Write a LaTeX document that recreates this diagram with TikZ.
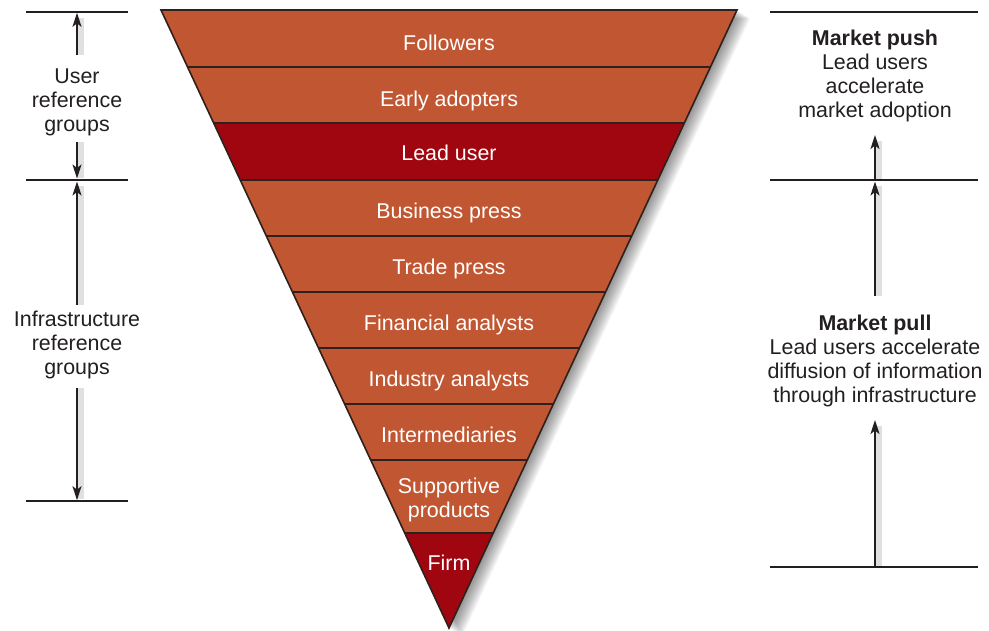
\documentclass[tikz,border=0pt]{standalone}
\usepackage{fontspec}
\setmainfont{Liberation Sans}
\usetikzlibrary{arrows.meta,calc}
\definecolor{band}{RGB}{192,87,50}
\definecolor{lead}{RGB}{160,6,16}
\definecolor{edge}{RGB}{48,32,28}
\definecolor{ink}{RGB}{35,31,32}
\begin{document}
\begin{tikzpicture}[x=1pt,y=-1pt,
  lbl/.style={font=\fontsize{21.4}{24}\selectfont, text=white, align=center, inner sep=0pt},
  side/.style={font=\fontsize{21.4}{24}\selectfont, text=ink, align=center, inner sep=0pt},
  rulel/.style={draw=ink, line width=1.5pt},
  arr/.style={draw=ink, line width=2pt, -{Stealth[length=14pt,width=9pt,inset=3.5pt]}},
  ashadow/.style={draw=black, opacity=0.12, line width=8pt}]
\useasboundingbox (0,0) rectangle (989,631);
\coordinate (A) at (161,10);
\coordinate (B) at (737,10);
\coordinate (C) at (449,628);
% soft shadow of the funnel
\foreach \i in {1,...,12}{
  \fill[black, opacity=0.045] ([shift={(\i*1.1,\i*0.7)}]A) -- ([shift={(\i*1.1,\i*0.7)}]B) -- ([shift={(\i*1.1,\i*0.7)}]C) -- cycle;
}
% bands
\foreach \ya/\yb/\c in {10/67/band,67/123/band,123/180/lead,180/236/band,236/292/band,292/348/band,348/404/band,404/460/band,460/533/band,533/628/lead}{
  \pgfmathsetmacro{\ta}{(\ya-10)/618}
  \pgfmathsetmacro{\tb}{(\yb-10)/618}
  \fill[\c] ($(A)!\ta!(C)$) -- ($(A)!\tb!(C)$) -- ($(B)!\tb!(C)$) -- ($(B)!\ta!(C)$) -- cycle;
}
\foreach \y in {67,123,180,236,292,348,404,460,533}{
  \pgfmathsetmacro{\ta}{(\y-10)/618}
  \draw[edge, line width=1.6pt] ($(A)!\ta!(C)$) -- ($(B)!\ta!(C)$);
}
\draw[edge, line width=1.6pt, line join=miter] (A) -- (B) -- (C) -- cycle;
% band labels
\node[lbl] (followers) at (449,43) {Followers};
\node[lbl] (early) at (449,101) {Early adopters};
\node[lbl] (leaduser) at (449,153) {Lead user};
\node[lbl] (bpress) at (449,213) {Business press};
\node[lbl] (tpress) at (449,269) {Trade press};
\node[lbl] (fin) at (449,325) {Financial analysts};
\node[lbl] (ind) at (449,381) {Industry analysts};
\node[lbl] (inter) at (449,435) {Intermediaries};
\node[lbl] (supp) at (449,500) {Supportive\\products};
\node[lbl] (firm) at (449,563) {Firm};
% left side
\draw[rulel] (26,12) -- (128,12);
\draw[rulel] (26,180) -- (128,180);
\draw[rulel] (26,501) -- (128,501);
\coordinate (l1) at (77,12);
\coordinate (l2) at (77,180);
\coordinate (l3) at (77,501);
\node[side] (user) at (77,102) {User\\reference\\groups};
\node[side] (infra) at (77,345) {Infrastructure\\reference\\groups};
\coordinate (u1) at (77,55);
\coordinate (u2) at (77,142);
\coordinate (i1) at (77,305);
\coordinate (i2) at (77,388);
\draw[ashadow] ($(u1)+(3,0)$) -- ($(l1)+(3,6)$);
\draw[ashadow] ($(u2)+(3,0)$) -- ($(l2)+(3,-2)$);
\draw[ashadow] ($(i1)+(3,0)$) -- ($(l2)+(3,6)$);
\draw[ashadow] ($(i2)+(3,0)$) -- ($(l3)+(3,-2)$);
\draw[arr] (u1) -- ($(l1)+(0,0.8)$);
\draw[arr] (u2) -- ($(l2)+(0,-1.5)$);
\draw[arr] (i1) -- ($(l2)+(0,1.5)$);
\draw[arr] (i2) -- ($(l3)+(0,-0.8)$);
% right side
\draw[rulel] (770,12) -- (978,12);
\draw[rulel] (770,180) -- (978,180);
\draw[rulel] (770,567) -- (978,567);
\coordinate (r1) at (875,180);
\coordinate (r2) at (875,567);
\node[side] (push) at (875,76) {\textbf{Market push}\\Lead users\\accelerate\\market adoption};
\node[side] (pull) at (875,361) {\textbf{Market pull}\\Lead users accelerate\\diffusion of information\\through infrastructure};
\coordinate (p1) at (875,135);
\coordinate (q1) at (875,296);
\coordinate (q2) at (875,420);
\draw[ashadow] ($(r1)+(3,0)$) -- ($(p1)+(3,6)$);
\draw[ashadow] ($(q1)+(3,0)$) -- ($(r1)+(3,6)$);
\draw[ashadow] ($(r2)+(3,0)$) -- ($(q2)+(3,6)$);
\draw[arr] (r1) -- (p1);
\draw[arr] (q1) -- ($(r1)+(0,1.5)$);
\draw[arr] (r2) -- (q2);
\end{tikzpicture}
\end{document}
